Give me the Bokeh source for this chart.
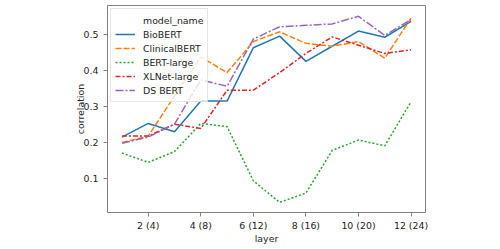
from bokeh.plotting import figure
from bokeh.models import Range1d, FixedTicker, Legend, LegendItem
from bokeh.embed import file_html
from bokeh.resources import INLINE

layers = [1, 2, 3, 4, 5, 6, 7, 8, 9, 10, 11, 12]
biobert = [0.216, 0.254, 0.231, 0.316, 0.316, 0.464, 0.496, 0.426, 0.468, 0.510, 0.493, 0.537]
clinicalbert = [0.201, 0.219, 0.330, 0.438, 0.395, 0.481, 0.508, 0.476, 0.468, 0.481, 0.435, 0.546]
bert_large = [0.172, 0.146, 0.176, 0.254, 0.245, 0.095, 0.035, 0.061, 0.179, 0.208, 0.192, 0.314]
xlnet_large = [0.219, 0.219, 0.252, 0.240, 0.346, 0.346, 0.395, 0.448, 0.494, 0.471, 0.448, 0.458]
ds_bert = [0.199, 0.216, 0.252, 0.375, 0.357, 0.488, 0.522, 0.526, 0.530, 0.551, 0.498, 0.542]

series_names = ["BioBERT", "ClinicalBERT", "BERT-large", "XLNet-large", "DS BERT"]
series_values = [biobert, clinicalbert, bert_large, xlnet_large, ds_bert]
colors = ["#1f77b4", "#ff7f0e", "#2ca02c", "#d62728", "#9467bd"]
dashes = ["solid", "6 2", "2 2", "5 2 2 2", "8 2 2 2"]

tick_positions = [2, 4, 6, 8, 10, 12]
tick_labels = ["2 (4)", "4 (8)", "6 (12)", "8 (16)", "10 (20)", "12 (24)"]
y_ticks = [0.1, 0.2, 0.3, 0.4, 0.5]

FONT = "DejaVu Sans"
FS = "9.4px"

p = figure(width=500, height=249, output_backend="svg", toolbar_location=None,
           x_range=Range1d(0.45, 12.55), y_range=Range1d(0.007, 0.581),
           min_border_left=107, min_border_right=75, min_border_top=5, min_border_bottom=37)
p.background_fill_color = "white"
p.border_fill_color = "white"
p.outline_line_color = "#808080"
p.outline_line_width = 1
p.xgrid.visible = False
p.ygrid.visible = False

p.xaxis.ticker = FixedTicker(ticks=tick_positions)
p.xaxis.major_label_overrides = {t: l for t, l in zip(tick_positions, tick_labels)}
p.yaxis.ticker = FixedTicker(ticks=y_ticks)
p.xaxis.minor_tick_line_color = None
p.yaxis.minor_tick_line_color = None
for ax in (p.xaxis, p.yaxis):
    ax.axis_line_color = None
    ax.major_tick_in = 0
    ax.major_tick_out = 4
    ax.major_tick_line_color = "#808080"
    ax.major_label_text_font = FONT
    ax.major_label_text_font_size = FS
    ax.major_label_text_color = "#222222"
    ax.axis_label_text_font = FONT
    ax.axis_label_text_font_size = FS
    ax.axis_label_text_font_style = "normal"
    ax.axis_label_text_color = "#222222"
p.xaxis.axis_label = "layer"
p.yaxis.axis_label = "correlation"
p.xaxis.major_label_standoff = 3
p.xaxis.axis_label_standoff = -1
p.yaxis.axis_label_standoff = -5

# invisible renderer for the legend's title row
title_r = p.line(x=layers[:1], y=biobert[:1], line_alpha=0)
items = [LegendItem(label="model_name", renderers=[title_r])]
for name, vals, c, d in zip(series_names, series_values, colors, dashes):
    r = p.line(x=layers, y=vals, line_color=c, line_width=1.5, line_dash=d)
    items.append(LegendItem(label=name, renderers=[r]))

legend = Legend(items=items, location=(3, 110))
legend.label_text_font = FONT
legend.label_text_font_size = FS
legend.label_text_color = "#222222"
legend.glyph_width = 20
legend.glyph_height = 14
legend.label_height = 14
legend.spacing = 0
legend.padding = 4
legend.margin = 0
legend.label_standoff = 8
legend.border_line_color = "#cccccc"
legend.border_line_width = 1
legend.background_fill_alpha = 0.8
p.add_layout(legend, "center")

open("out.html", "w").write(file_html(p, INLINE))
